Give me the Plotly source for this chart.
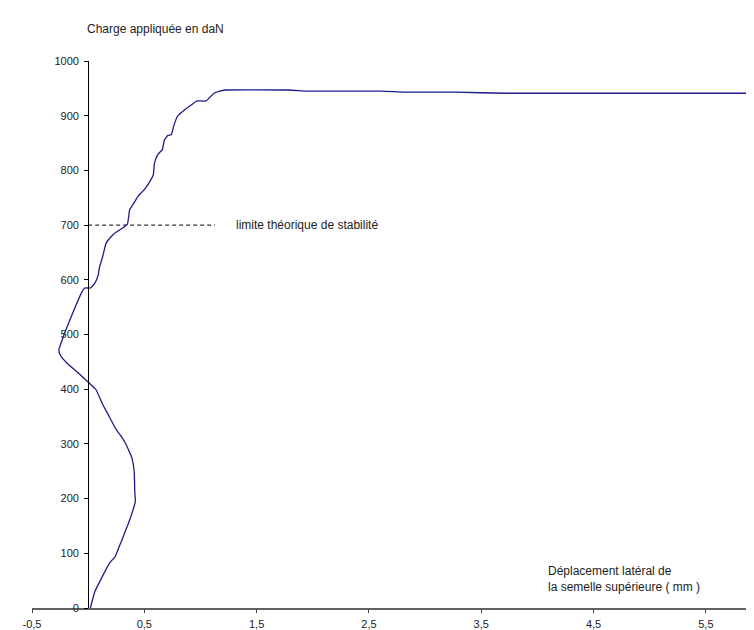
import plotly.graph_objects as go

# Curve data: lateral displacement (mm) vs applied load (daN)
displacement_mm = [0.02, 0.06, 0.12, 0.19, 0.24, 0.29, 0.33, 0.37, 0.42, 0.415, 0.41, 0.39,
                   0.355, 0.33, 0.29, 0.25, 0.18, 0.13, 0.07, 0.0, -0.09, -0.19, -0.25, -0.26,
                   -0.22, -0.18, -0.12, -0.06, -0.03, 0.02, 0.06, 0.09, 0.10, 0.13, 0.16, 0.21,
                   0.27, 0.31, 0.35, 0.37, 0.415, 0.445, 0.50, 0.55, 0.58, 0.59, 0.62, 0.66,
                   0.68, 0.71, 0.74, 0.76, 0.795, 0.86, 0.92, 0.97, 1.05, 1.12, 1.17, 1.22,
                   1.78, 1.96, 2.61, 2.82, 3.27, 3.71, 6.0]
load_daN = [0, 30, 55, 82, 94, 119, 140, 161, 195, 213, 250, 274,
            291, 302, 315, 326, 353, 372, 399, 413, 430, 448, 463, 472,
            497, 518, 548, 576, 585, 585, 594, 609, 622, 643, 667, 680,
            690, 695, 702, 728, 743, 753, 765, 780, 792, 813, 829, 838,
            856, 864, 865, 880, 899, 911, 920, 927, 927, 941, 945, 947,
            947, 945, 945, 943, 943, 941, 941]

# Theoretical stability limit
limit_x = [0.0, 1.13]
limit_y = [700, 700]

x_tickvals = [-0.5, 0.5, 1.5, 2.5, 3.5, 4.5, 5.5]
x_ticktext = ["-0,5", "0,5", "1,5", "2,5", "3,5", "4,5", "5,5"]
y_tickvals = [0, 100, 200, 300, 400, 500, 600, 700, 800, 900, 1000]

FONT = "Liberation Sans, Arial, sans-serif"

fig = go.Figure()
fig.add_trace(go.Scatter(x=limit_x, y=limit_y, mode="lines",
                         line=dict(color="black", width=1, dash="4px,3px"),
                         hoverinfo="skip", showlegend=False))
fig.add_trace(go.Scatter(x=displacement_mm, y=load_daN, mode="lines",
                         line=dict(color="#1c1c8a", width=1.3, shape="spline", smoothing=0.4),
                         showlegend=False))

fig.update_layout(
    width=754, height=630,
    margin=dict(l=24, r=0, t=53, b=30),
    paper_bgcolor="white", plot_bgcolor="white",
    font=dict(family=FONT, size=11, color="#222222"),
    xaxis=dict(range=[-0.5, 6.0], tickvals=x_tickvals, ticktext=x_ticktext,
               showgrid=False, zeroline=False, showline=True,
               linecolor="#606060", linewidth=2, ticks="outside", ticklen=3,
               tickcolor="#404040", ticklabelstandoff=2,
               tickfont=dict(size=11, color="#222222")),
    yaxis=dict(range=[0, 1000], tickvals=y_tickvals, anchor="free",
               position=0.5 / 6.5, showgrid=False, zeroline=False,
               showline=True, linecolor="black", linewidth=1,
               ticks="outside", ticklen=4, tickcolor="black",
               ticklabelstandoff=3,
               tickfont=dict(size=11, color="#222222")),
    annotations=[
        dict(text="Charge appliquée en daN", xref="paper", yref="paper",
             x=(77 - 24) / 730, y=1, showarrow=False, xanchor="left",
             yanchor="middle", font=dict(size=12, color="#222222"),
             yshift=32),
        dict(text="limite théorique de stabilité", xref="x", yref="y",
             x=1.30, y=700, showarrow=False, xanchor="left", yanchor="middle",
             font=dict(size=12, color="#222222")),
        dict(text="Déplacement latéral de", xref="x", yref="y",
             x=4.08, y=68, showarrow=False, xanchor="left", yanchor="middle",
             font=dict(size=12, color="#222222")),
        dict(text="la semelle supérieure ( mm )", xref="x", yref="y",
             x=4.08, y=38, showarrow=False, xanchor="left", yanchor="middle",
             font=dict(size=12, color="#222222")),
    ],
)

fig.write_html("out.html")
